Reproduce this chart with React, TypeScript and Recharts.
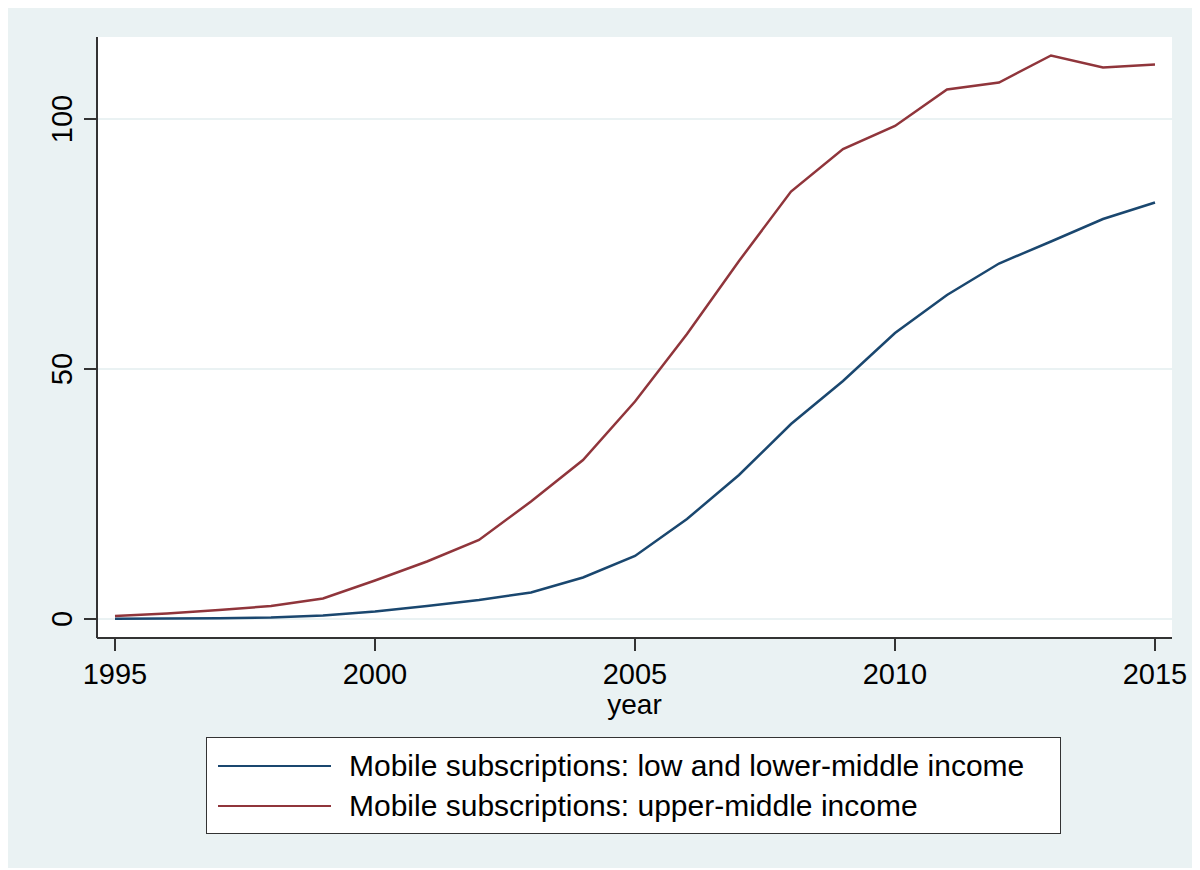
import { CartesianGrid, Legend, Line, LineChart, XAxis, YAxis } from "recharts";

const years = [1995, 1996, 1997, 1998, 1999, 2000, 2001, 2002, 2003, 2004, 2005,
    2006, 2007, 2008, 2009, 2010, 2011, 2012, 2013, 2014, 2015];

// mobile subscriptions per 100 people
const lowIncome = [0.05, 0.1, 0.15, 0.3, 0.7, 1.5, 2.6, 3.8, 5.3, 8.3, 12.6,
    20.0, 28.8, 39.0, 47.6, 57.2, 64.8, 71.1, 75.5, 80.0, 83.3];
const upperMiddle = [0.6, 1.1, 1.8, 2.6, 4.1, 7.7, 11.5, 15.8, 23.5, 31.8, 43.5,
    57.0, 71.6, 85.5, 94.0, 98.6, 105.9, 107.3, 112.7, 110.3, 110.9];

const xTicks = [1995, 2000, 2005, 2010, 2015];
const yTicks = [0, 50, 100];

const seriesNames = [
    "Mobile subscriptions: low and lower-middle income",
    "Mobile subscriptions: upper-middle income",
];
const seriesColors = ["#1A476F", "#90353B"];

const FONT = "'Liberation Sans', Arial, Helvetica, sans-serif";
const BG = "#EAF2F3";
const AXIS = "#333333";

const data = years.map((year, i) => ({
    year,
    low: lowIncome[i],
    upper: upperMiddle[i],
}));

const YTick = ({ x, y, payload }: any) => (
    <text
        x={x}
        y={y}
        transform={`rotate(-90 ${x} ${y})`}
        textAnchor="middle"
        fill="#000"
        fontSize={29}
        fontFamily={FONT}
    >
        {payload.value}
    </text>
);

const LegendBox = () => (
    <div style={{
        width: "100%", height: "100%", boxSizing: "border-box",
        background: "#fff", border: `1.5px solid ${AXIS}`,
        fontFamily: FONT, fontSize: 30, color: "#000",
        paddingTop: 8,
    }}>
        {seriesNames.map((name, i) => (
            <div key={name} style={{ display: "flex", alignItems: "center", height: 40 }}>
                <div style={{ marginLeft: 11, width: 113, height: 2.5, background: seriesColors[i] }}/>
                <span style={{ marginLeft: 18, whiteSpace: "nowrap" }}>{name}</span>
            </div>
        ))}
    </div>
);

export default function App() {
    return (
        <div style={{ width: 1186, height: 862, background: BG, marginTop: -2 }}>
            <LineChart
                width={1186}
                height={862}
                data={data}
                margin={{ top: 31, right: 22, left: 0, bottom: 150 }}
            >
                <CartesianGrid
                    vertical={false}
                    fill="#fff"
                    stroke={BG}
                    strokeWidth={2}
                    horizontalValues={yTicks}
                />
                <XAxis
                    dataKey="year"
                    type="number"
                    domain={[1994.654, 2015.327]}
                    allowDataOverflow
                    ticks={xTicks}
                    height={80}
                    tickSize={13}
                    tickMargin={12}
                    axisLine={{ stroke: AXIS, strokeWidth: 2 }}
                    tickLine={{ stroke: AXIS, strokeWidth: 2 }}
                    tick={{ fill: "#000", fontSize: 29, fontFamily: FONT }}
                    label={{ value: "year", position: "insideBottom", offset: 4,
                        fill: "#000", fontSize: 28, fontFamily: FONT }}
                />
                <YAxis
                    type="number"
                    domain={[-3.8, 116.4]}
                    allowDataOverflow
                    ticks={yTicks}
                    width={89}
                    tickSize={13}
                    tickMargin={12}
                    axisLine={{ stroke: AXIS, strokeWidth: 2 }}
                    tickLine={{ stroke: AXIS, strokeWidth: 2 }}
                    tick={<YTick/>}
                />
                <Line type="linear" dataKey="low" name={seriesNames[0]} stroke={seriesColors[0]}
                      strokeWidth={2.5} dot={false} isAnimationActive={false}/>
                <Line type="linear" dataKey="upper" name={seriesNames[1]} stroke={seriesColors[1]}
                      strokeWidth={2.5} dot={false} isAnimationActive={false}/>
                <Legend
                    layout="horizontal"
                    verticalAlign="middle"
                    align="center"
                    content={<LegendBox/>}
                    wrapperStyle={{ left: 198, top: 731, width: 855, height: 97, bottom: "auto" }}
                />
            </LineChart>
        </div>
    );
}
